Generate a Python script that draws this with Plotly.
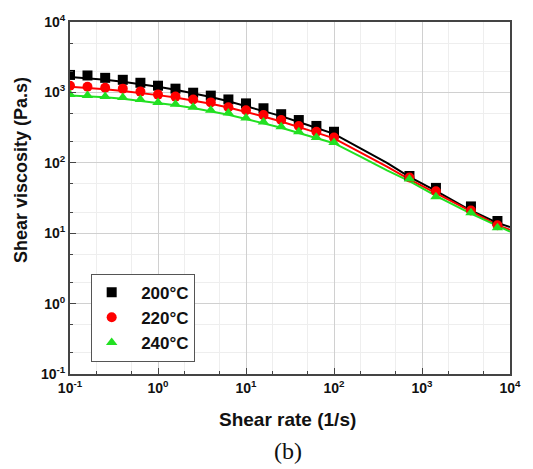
import plotly.graph_objects as go

# measured data
shear_rate = [0.1, 0.158, 0.251, 0.398, 0.631, 1.0, 1.58, 2.51, 3.98, 6.31, 10, 15.8, 25.1, 39.8, 63.1, 100, 720, 1440, 3600, 7200]
visc_200 = [1770, 1740, 1610, 1510, 1370, 1245, 1130, 990, 900, 794, 698, 595, 490, 405, 334, 276, 65, 44, 24, 14.9]
visc_220 = [1245, 1200, 1167, 1130, 1026, 931, 872, 794, 721, 614, 558, 476, 405, 334, 276, 228, 62, 39.5, 21, 13]
visc_240 = [931, 900, 872, 845, 794, 721, 676, 614, 558, 510, 433, 380, 325, 276, 228, 194, 59, 33, 19.5, 12]

# fitted curves
fit_rate = [0.1, 0.158, 0.251, 0.398, 0.631, 1.0, 1.58, 2.51, 3.98, 6.31, 10, 15.8, 25.1, 39.8, 63.1, 100, 200, 400, 720, 1440, 3600, 7200, 10000]
fit_200 = [1650, 1590, 1510, 1420, 1320, 1200, 1090, 970, 860, 750, 640, 545, 460, 380, 315, 258, 160, 100, 63, 40, 21, 14, 12.2]
fit_220 = [1200, 1160, 1110, 1050, 985, 915, 845, 770, 690, 610, 530, 455, 385, 325, 268, 222, 140, 88, 58, 37, 20, 13, 11.2]
fit_240 = [900, 880, 850, 810, 760, 710, 655, 600, 540, 480, 420, 365, 315, 265, 225, 190, 122, 78, 55, 34, 19, 12.5, 10.5]

names = ["200°C", "220°C", "240°C"]
colors = ["#000000", "#ff0000", "#22e022"]
symbols = ["square", "circle", "triangle-up"]

tick_vals = [0.1, 1, 10, 100, 1000, 10000]
tick_text = ["<b>10<sup>-1</sup></b>", "<b>10<sup>0</sup></b>", "<b>10<sup>1</sup></b>",
             "<b>10<sup>2</sup></b>", "<b>10<sup>3</sup></b>", "<b>10<sup>4</sup></b>"]

fig = go.Figure()
for fy, c in zip([fit_200, fit_220, fit_240], colors):
    fig.add_trace(go.Scatter(x=fit_rate, y=fy, mode="lines", line=dict(color=c, width=2),
                             showlegend=False, hoverinfo="skip"))
for vy, n, c, s in zip([visc_200, visc_220, visc_240], names, colors, symbols):
    fig.add_trace(go.Scatter(x=shear_rate, y=vy, mode="markers", name="  <b>" + n + "</b>",
                             marker=dict(color=c, symbol=s, size=10, line=dict(width=0))))

axis_common = dict(
    type="log", range=[-1, 4], tickvals=tick_vals, ticktext=tick_text,
    showline=True, linecolor="#444", linewidth=2, mirror=True,
    ticks="inside", ticklen=6, tickcolor="#444",
    showgrid=True, gridcolor="#d0d0d0", gridwidth=1, zeroline=False,
    tickfont=dict(family="Liberation Sans, Arial", size=14, color="#111"),
    minor=dict(ticks="inside", ticklen=3, tickcolor="#444", showgrid=True, gridcolor="#eeeeee"),
)
fig.update_xaxes(**axis_common)
fig.update_yaxes(**axis_common)

fig.update_layout(
    width=533, height=469,
    margin=dict(l=70, r=17, t=15, b=95),
    plot_bgcolor="white", paper_bgcolor="white",
    legend=dict(x=0.047, y=0.285, xanchor="left", yanchor="top",
                bgcolor="white", bordercolor="#555", borderwidth=1,
                font=dict(family="Liberation Sans, Arial", size=17, color="#111"),
                itemwidth=30, tracegroupgap=0),
    annotations=[
        dict(text="<b>Shear rate (1/s)</b>", x=0.495, y=-0.128, xref="paper", yref="paper",
             showarrow=False, yanchor="middle", font=dict(family="Liberation Sans, Arial", size=19, color="#111")),
        dict(text="<b>Shear viscosity (Pa.s)</b>", x=-0.111, y=0.58, xref="paper", yref="paper",
             showarrow=False, textangle=-90, xanchor="center", yanchor="middle",
             font=dict(family="Liberation Sans, Arial", size=18, color="#111")),
        dict(text="(b)", x=0.495, y=-0.22, xref="paper", yref="paper", showarrow=False,
             yanchor="middle", font=dict(family="Liberation Serif, Times New Roman", size=24, color="#111")),
    ],
)

fig.write_html("out.html")
